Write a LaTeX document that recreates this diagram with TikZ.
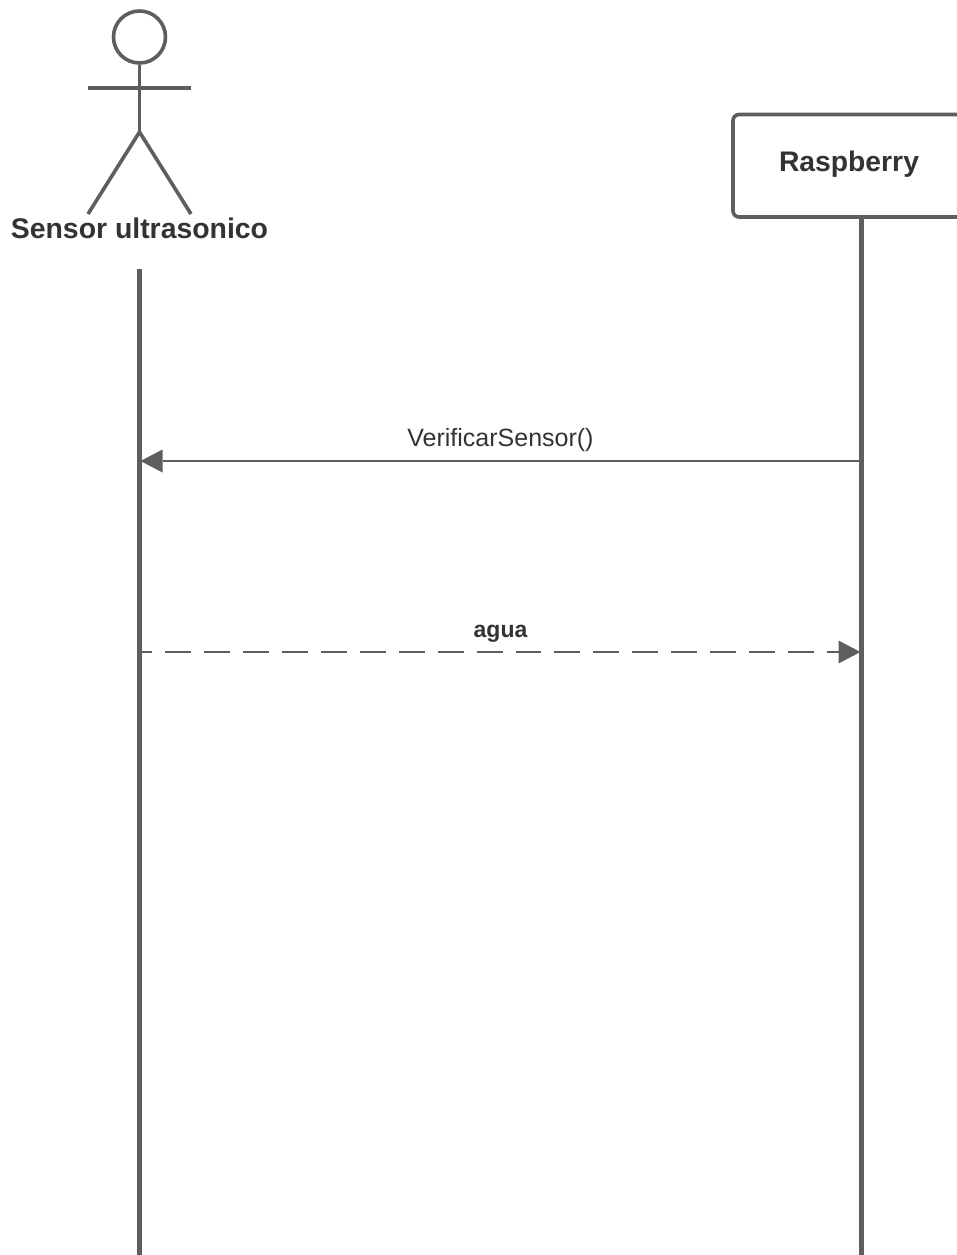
\documentclass[tikz,border=0pt]{standalone}
\usepackage{fontspec}
\setmainfont{Liberation Sans}
\usetikzlibrary{arrows.meta}
\definecolor{stroke}{HTML}{5E5E5E}
\definecolor{ink}{HTML}{333333}
\tikzset{
  figure/.style={draw=stroke,line width=3.6pt},
  lifeline/.style={draw=stroke,line width=5.4pt},
  message/.style={draw=stroke,line width=2.6pt,-{Triangle[length=22pt,width=23pt,fill=stroke,line width=0pt]},shorten >=1pt},
  reply/.style={message,dash pattern=on 25.9pt off 13pt,dash phase=13pt},
  boldlabel/.style={text=ink,font=\bfseries,inner sep=0pt,anchor=center},
  msglabel/.style={text=ink,inner sep=0pt,anchor=center}
}
\begin{document}
\begin{tikzpicture}[x=1pt,y=-1pt]
\useasboundingbox (0,0) rectangle (957,1255);
\fill[white] (0,0) rectangle (957,1255);
% actor
\node[figure,circle,minimum size=52pt,inner sep=0pt] (head) at (139.5,37) {};
\coordinate (hip) at (139.5,132);
\coordinate (armL) at (88,88);
\coordinate (armR) at (191,88);
\coordinate (footL) at (88,214);
\coordinate (footR) at (191,214);
\draw[figure] (head.south) -- (hip);
\draw[figure] (armL) -- (armR);
\draw[figure,line join=miter] (footL) -- (hip) -- (footR);
\node[boldlabel] (sensor) at (139.5,228.5) {\fontsize{28.4}{32}\selectfont Sensor ultrasonico};
% raspberry box
\draw[draw=stroke,line width=3.6pt,rounded corners=6pt] (975,114.5) -- (733,114.5) -- (733,217) -- (975,217);
\node[boldlabel] (rasp) at (849,164) {\fontsize{28.3}{32}\selectfont Raspberry};
% lifelines
\coordinate (leftTop) at (139.5,269);
\coordinate (leftEnd) at (139.5,1255);
\coordinate (rightTop) at (861.5,217);
\coordinate (rightEnd) at (861.5,1255);
\draw[lifeline] (leftTop) -- (leftEnd);
\draw[lifeline] (rightTop) -- (rightEnd);
% messages
\coordinate (m1L) at (139.5,461);
\coordinate (m1R) at (861.5,461);
\coordinate (m2L) at (139.5,652);
\coordinate (m2R) at (861.5,652);
\draw[message] (m1R) -- (m1L);
\draw[reply] (m2L) -- (m2R);
\node[msglabel] (verif) at (500.5,440) {\fontsize{25}{28}\selectfont VerificarSensor()};
\node[boldlabel] (agua) at (500.5,633.5) {\fontsize{23}{28}\selectfont agua};
\end{tikzpicture}
\end{document}
